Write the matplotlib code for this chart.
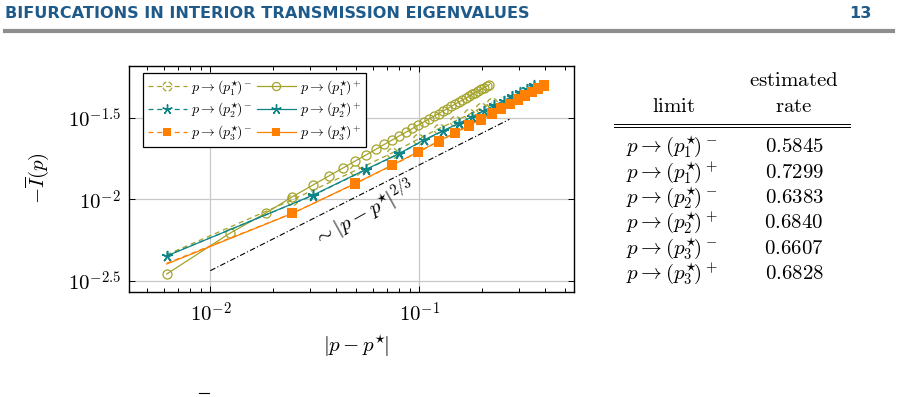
import matplotlib.pyplot as plt
from matplotlib.path import Path
from matplotlib.lines import Line2D
from matplotlib.ticker import FixedLocator, LogLocator, NullFormatter

#--- data ---#
x_p1_plus = [0.00618, 0.01236, 0.01854, 0.02472, 0.0309, 0.03708, 0.04326, 0.04944, 0.05562,
             0.0618, 0.06798, 0.07416, 0.08034, 0.08652, 0.0927, 0.09888, 0.10506, 0.11124,
             0.11742, 0.1236, 0.12978, 0.13596, 0.14214, 0.14832, 0.1545, 0.16068, 0.16686,
             0.17304, 0.17922, 0.1854, 0.19158, 0.19776, 0.20394, 0.21012, 0.2163]
y_p1_plus = [0.00348, 0.00618, 0.00828, 0.01038, 0.01222, 0.01396, 0.01560, 0.01722, 0.01875,
             0.02023, 0.02173, 0.02312, 0.02455, 0.02588, 0.02723, 0.02851, 0.02985, 0.03112,
             0.03236, 0.03357, 0.03483, 0.03597, 0.03715, 0.03837, 0.03954, 0.04064, 0.04178,
             0.04295, 0.04406, 0.04519, 0.04624, 0.04732, 0.04842, 0.04943, 0.05058]

x_p1_minus = [0.00618, 0.02472, 0.04944, 0.07416, 0.09888, 0.1236, 0.14832, 0.17304, 0.19776, 0.22248]
y_p1_minus = [0.00457, 0.00995, 0.01503, 0.01928, 0.02344, 0.02710, 0.03020, 0.03327, 0.03639, 0.03926]

x_p2 = [0.00618, 0.0309, 0.05562, 0.08034, 0.10506, 0.12978, 0.1545, 0.17922, 0.20394,
        0.22866, 0.25338, 0.2781, 0.30282, 0.32754, 0.35226]
y_p2_plus = [0.00449, 0.01059, 0.01528, 0.01914, 0.02312, 0.02636, 0.02924, 0.03214, 0.03508,
             0.03776, 0.04036, 0.04285, 0.04529, 0.04775, 0.05023]
y_p2_minus = [0.00451, 0.01055, 0.01522, 0.01908, 0.02300, 0.02625, 0.02910, 0.03195, 0.03490,
              0.03755, 0.04010, 0.04255, 0.04495, 0.04735, 0.04975]

x_p3 = [0.00618, 0.02472, 0.04944, 0.07416, 0.09888, 0.1236, 0.14832, 0.17304, 0.19776,
        0.22248, 0.2472, 0.27192, 0.29664, 0.32136, 0.34608, 0.3708, 0.39552]
y_p3_plus = [0.00401, 0.00820, 0.01253, 0.01622, 0.01959, 0.02270, 0.02564, 0.02844, 0.03097,
             0.03373, 0.03614, 0.03855, 0.04102, 0.04345, 0.04571, 0.04797, 0.05000]
y_p3_minus = [0.00405, 0.00822, 0.01250, 0.01615, 0.01950, 0.02262, 0.02552, 0.02830, 0.03085,
              0.03360, 0.03600, 0.03838, 0.04080, 0.04320, 0.04545, 0.04770, 0.04970]

# reference slope line ~ |p-p*|^(2/3)
x_ref = [0.01, 0.27]
y_ref = [0.00365, 0.0310]

# table
limits = [r'$p \to (p_1^{\star}\!)^-$', r'$p \to (p_1^{\star}\!)^+$', r'$p \to (p_2^{\star}\!)^-$',
          r'$p \to (p_2^{\star}\!)^+$', r'$p \to (p_3^{\star}\!)^-$', r'$p \to (p_3^{\star}\!)^+$']
rates = ['0.5845', '0.7299', '0.6383', '0.6840', '0.6607', '0.6828']

#--- rcParams ---#
plt.rcParams['mathtext.fontset'] = 'cm'
plt.rcParams['axes.axisbelow'] = True

W, H = 898, 397
def fx(x):
    return x / W
def fy(y):
    return 1 - y / H

c_olive = '#a3a32a'
c_teal = '#108585'
c_orange = '#ff8000'

# dashed circle marker (pgfplots draws the mark with the dash pattern)
dashed_circle = Path.make_compound_path(*[Path.arc(a, a + 60) for a in (15, 105, 195, 285)])
star = (5, 2, 0)

fig = plt.figure(figsize=(W / 100, H / 100), dpi=100)
ax = fig.add_axes([fx(129), fy(292), (574 - 129) / W, (292 - 66) / H])
ax.set_xscale('log')
ax.set_yscale('log')

lw = 0.9
dash = (0, (4, 3))
h1m, = ax.plot(x_p1_minus, y_p1_minus, color=c_olive, lw=lw, linestyle=dash,
               marker=dashed_circle, markersize=7, markerfacecolor='none',
               markeredgecolor=c_olive, markeredgewidth=0.9, markevery=(1, 1),
               label=limits[0])
h1p, = ax.plot(x_p1_plus, y_p1_plus, color=c_olive, lw=lw, marker='o', markersize=6.5,
               markerfacecolor='none', markeredgewidth=0.9, label=limits[1])
h2m, = ax.plot(x_p2, y_p2_minus, color=c_teal, lw=lw, linestyle=dash, marker=star,
               markersize=8, markeredgewidth=1.0, label=limits[2])
h2p, = ax.plot(x_p2, y_p2_plus, color=c_teal, lw=lw, marker=star, markersize=8,
               markeredgewidth=1.0, label=limits[3])
h3m, = ax.plot(x_p3, y_p3_minus, color=c_orange, lw=lw, linestyle=dash, marker='s',
               markersize=6.5, markevery=(1, 1), markeredgewidth=0, label=limits[4])
h3p, = ax.plot(x_p3, y_p3_plus, color=c_orange, lw=lw, marker='s', markersize=6.5,
               markevery=(1, 1), markeredgewidth=0, label=limits[5])

ax.plot(x_ref, y_ref, color='black', lw=0.8, linestyle=(0, (5, 2, 1, 2)))
ax.text(0.0545, 0.00815, r'$\sim|p-p^{\star}\!|^{2/3}$', rotation=29, rotation_mode='anchor',
        ha='center', va='center', fontsize=15)

# axes
ax.set_xlim(0.00408, 0.5497)
ax.set_ylim(0.0027, 0.0658)
ax.xaxis.set_major_locator(FixedLocator([1e-2, 1e-1]))
ax.set_xticklabels([r'$10^{-2}$', r'$10^{-1}$'])
ax.xaxis.set_minor_locator(LogLocator(base=10, subs=range(2, 10)))
ax.xaxis.set_minor_formatter(NullFormatter())
ax.yaxis.set_major_locator(FixedLocator([10 ** -2.5, 10 ** -2, 10 ** -1.5]))
ax.set_yticklabels([r'$10^{-2.5}$', r'$10^{-2}$', r'$10^{-1.5}$'])
ax.yaxis.set_minor_locator(FixedLocator([]))
ax.tick_params(which='both', direction='in', top=True, right=True, labelsize=15, width=0.7)
ax.tick_params(which='major', length=4.5)
ax.tick_params(which='minor', length=3)
ax.tick_params(axis='x', pad=7)
ax.tick_params(axis='y', pad=6)
ax.grid(which='major', color='#c8c8c8', lw=0.9)
for s in ax.spines.values():
    s.set_linewidth(1.0)

leg = ax.legend(handles=[h1m, h2m, h3m, h1p, h2p, h3p], ncol=2, loc='upper left',
                bbox_to_anchor=(0.0315, 0.969), borderaxespad=0, fontsize=10,
                fancybox=False, edgecolor='black', framealpha=1, handlelength=2.8,
                handletextpad=0.3, columnspacing=0.3, labelspacing=0.3, borderpad=0.35,
                markerscale=0.9)
leg.get_frame().set_linewidth(0.9)

fig.text(fx(356), fy(346), r'$|p-p^{\star}\!|$', ha='center', va='center', fontsize=15)
fig.text(fx(37), fy(178), r'$-\overline{I}(p)$', ha='center', va='center', fontsize=15,
         rotation=90)

# table
fig.text(fx(794), fy(80), r'$\mathrm{estimated}$', ha='center', va='center', fontsize=15)
fig.text(fx(674), fy(106), r'$\mathrm{limit}$', ha='center', va='center', fontsize=15)
fig.text(fx(794), fy(106), r'$\mathrm{rate}$', ha='center', va='center', fontsize=15)
for yy in (124, 127):
    fig.add_artist(Line2D([fx(614), fx(850)], [fy(yy), fy(yy)], color='black', lw=0.7))
row_y = [146, 172, 197, 222, 248, 273]
for lab, r, yy in zip(limits, rates, row_y):
    fig.text(fx(626), fy(yy), lab, ha='left', va='center', fontsize=15)
    fig.text(fx(794), fy(yy), '$' + r + '$', ha='center', va='center', fontsize=15)

# page header
fig.text(fx(5), fy(13), 'BIFURCATIONS IN INTERIOR TRANSMISSION EIGENVALUES', ha='left',
         va='center', fontsize=11.6, fontweight='bold', color='#1e5a8a',
         family=['Liberation Sans Narrow', 'DejaVu Sans'])
fig.text(fx(872), fy(13), '13', ha='right', va='center', fontsize=11.6, fontweight='bold',
         color='#1e5a8a', family=['Liberation Sans Narrow', 'DejaVu Sans'])
fig.add_artist(Line2D([fx(5), fx(893)], [fy(31), fy(31)], color='#8e8e8e', lw=3))
fig.add_artist(Line2D([fx(199), fx(209)], [fy(393), fy(393)], color='black', lw=0.8))

fig.savefig('out.png', dpi=100)
